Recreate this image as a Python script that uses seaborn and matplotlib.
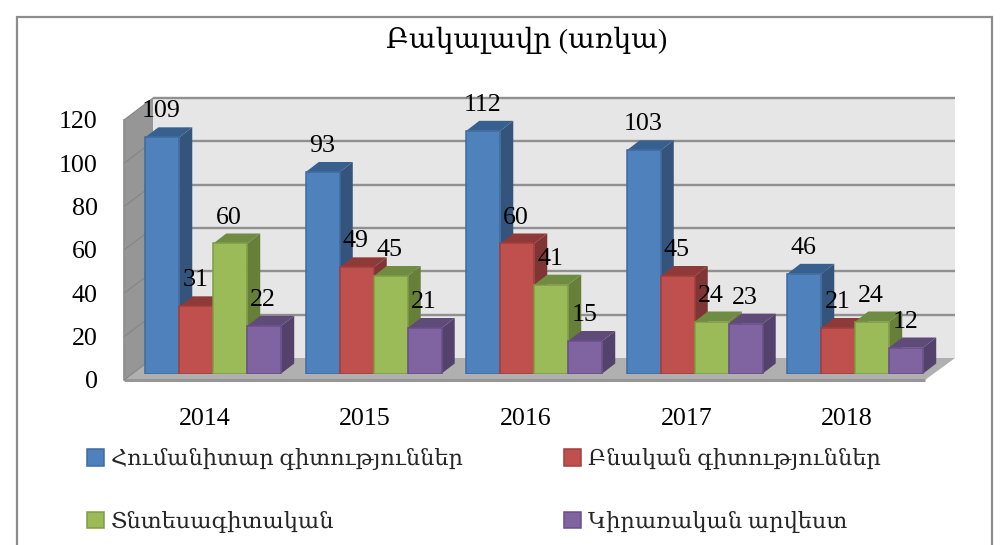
import matplotlib
matplotlib.use("Agg")
import matplotlib.pyplot as plt
from matplotlib.patches import Polygon, Rectangle
from matplotlib.transforms import ScaledTranslation, IdentityTransform
import pandas as pd
import seaborn as sns

years = ["2014", "2015", "2016", "2017", "2018"]
humanities = [109, 93, 112, 103, 46]
natural = [31, 49, 60, 45, 21]
economics = [60, 45, 41, 24, 24]
applied = [22, 21, 15, 23, 12]
series_names = ["Հումանիտար գիտություններ", "Բնական գիտություններ", "Տնտեսագիտական", "Կիրառական արվեստ"]
title = "Բակալավր (առկա)"
yticks = [0, 20, 40, 60, 80, 100, 120]

face = ["#4F81BD", "#C0504D", "#9BBB59", "#8064A2"]
edge = ["#3F6C9F", "#A03F3C", "#7F9C45", "#694F88"]
side = ["#34547C", "#7E3533", "#66803A", "#54426C"]
topc = ["#38608E", "#8E3A38", "#708C42", "#5E4B78"]

W, H = 1000, 545
FONT = ["Liberation Serif", "DejaVu Serif", "DejaVu Sans"]
sns.set_theme(style="white")
plt.rcParams["font.family"] = FONT

df = pd.DataFrame({
    "year": years * 4,
    "field": sum([[n] * 5 for n in series_names], []),
    "value": humanities + natural + economics + applied,
})

fig = plt.figure(figsize=(W / 100, H / 100), dpi=100, facecolor="white")

# background scene in pixel coordinates
bg = fig.add_axes([0, 0, 1, 1], zorder=0)
bg.set_xlim(0, W)
bg.set_ylim(H, 0)
bg.axis("off")
bg.add_patch(Rectangle((17, 17), 975, 560, fc="white", ec="#8C8C8C", lw=1.6))
scale = 260 / 120
wall_l, wall_r, back0, front_l, front_r, front0 = 153, 955, 358, 124, 925, 380
bg.add_patch(Polygon([(wall_l, back0 - 120 * scale), (wall_r, back0 - 120 * scale), (wall_r, back0), (wall_l, back0)], fc="#E6E6E6", ec="none"))
bg.add_patch(Polygon([(front_l, front0 - 120 * scale), (wall_l, back0 - 120 * scale), (wall_l, back0), (front_l, front0)], fc="#969696", ec="none"))
bg.add_patch(Polygon([(front_l, front0), (wall_l, back0), (wall_r, back0), (front_r, front0)], fc="#B0B0B0", ec="none"))
bg.plot([front_l, front_r], [front0, front0], color="#969696", lw=2.2, solid_capstyle="butt")
for v in yticks:
    y_b = back0 - v * scale
    y_f = front0 - v * scale
    if v > 0:
        bg.plot([wall_l, wall_r], [y_b, y_b], color="#909090", lw=1.7, solid_capstyle="butt")
    bg.plot([front_l, wall_l], [y_f, y_b], color="#858585", lw=0.8)
bg.plot([front_l, front_l], [front0, front0 - 120 * scale], color="#8C8C8C", lw=1.2)

# main axes: the bars
ax = fig.add_axes([133 / W, (H - 373.5) / H, 802.5 / W, 260 / H], zorder=2)
ax.patch.set_alpha(0)
sns.barplot(data=df, x="year", y="value", hue="field", hue_order=series_names,
            palette=face, saturation=1, width=0.847, gap=0, dodge=True, ax=ax)
ax.set_xlim(-0.5, 4.5)
ax.set_ylim(0, 120)
ax.set_xlabel("")
ax.set_ylabel("")
sns.despine(ax=ax, left=True, bottom=True, right=True, top=True)
ax.set_yticks(yticks)
ax.tick_params(axis="y", length=0, pad=25.5, labelsize=18.7, labelcolor="black")
ax.tick_params(axis="x", length=0, pad=24.5, labelsize=18.7, labelcolor="black")
shift_y = ScaledTranslation(0, -6.5 / 100, fig.dpi_scale_trans)
for lab in ax.get_yticklabels():
    lab.set_transform(lab.get_transform() + shift_y)
shift_x = ScaledTranslation(-8.5 / 100, 0, fig.dpi_scale_trans)
for lab in ax.get_xticklabels():
    lab.set_transform(lab.get_transform() + shift_x)

if ax.get_legend():
    ax.get_legend().remove()

dx, dy = 13, 10
bars = []
for i, name in enumerate(series_names):
    color = matplotlib.colors.to_rgba(face[i])
    bars += [(p, i) for p in ax.patches if matplotlib.colors.to_rgba(p.get_facecolor()) == color and p.get_height() > 0]
bars.sort(key=lambda t: t[0].get_x())
for n, (p, i) in enumerate(bars):
    z = 3 + n
    p.set_zorder(z + 0.5)
    p.set_edgecolor(edge[i])
    p.set_linewidth(1.1)
    (x0, y0) = ax.transData.transform((p.get_x(), 0))
    (x1, y1) = ax.transData.transform((p.get_x() + p.get_width(), p.get_height()))
    ax.add_patch(Polygon([(x1, y0), (x1 + dx, y0 + dy), (x1 + dx, y1 + dy), (x1, y1)], closed=True,
                         fc=side[i], ec="none", transform=IdentityTransform(), zorder=z, clip_on=False))
    ax.add_patch(Polygon([(x0, y1), (x0 + dx, y1 + dy), (x1 + dx, y1 + dy), (x1, y1)], closed=True,
                         fc=topc[i], ec="none", transform=IdentityTransform(), zorder=z, clip_on=False))
for p, i in bars:
    ax.annotate(f"{int(p.get_height())}", (p.get_x() + p.get_width() / 2, p.get_height()),
                xytext=(-1, 26), textcoords="offset pixels", ha="center", va="center",
                fontsize=18.7, color="black", zorder=100, annotation_clip=False)

fig.text(527 / W, 1 - 40 / H, title, ha="center", va="center", fontsize=20.3, color="black")

order = [0, 2, 1, 3]
leg = fig.legend([Rectangle((0, 0), 1, 1, fc=face[i], ec=edge[i], lw=1.1) for i in order],
                 [series_names[i] for i in order], ncol=2, frameon=False,
                 loc="upper left", bbox_to_anchor=(85 / W, 1 - 446 / H),
                 fontsize=16.2, handlelength=0.755, handleheight=0.755, handletextpad=0.31,
                 labelspacing=1.8, columnspacing=4.49, borderpad=0.1, borderaxespad=0)
fig.savefig("out.png", dpi=100)
